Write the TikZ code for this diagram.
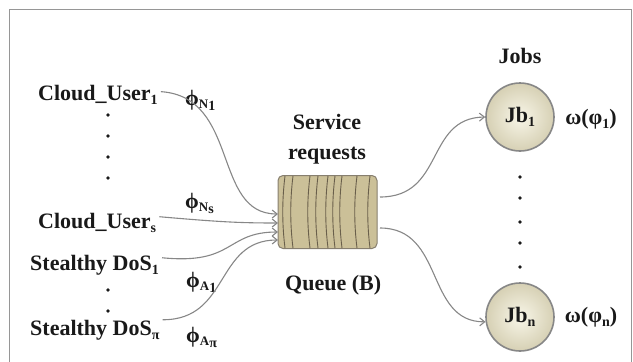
\documentclass[tikz,border=0pt]{standalone}
\usepackage{fontspec}
\setmainfont{Liberation Serif}
\usetikzlibrary{arrows.meta}
\definecolor{txt}{RGB}{25,25,25}
\definecolor{conn}{RGB}{135,135,135}
\definecolor{qfill}{RGB}{203,192,152}
\definecolor{qline}{RGB}{105,95,75}
\definecolor{frame}{RGB}{150,150,150}
\newcommand\lsub[1]{\raisebox{-0.45ex}{\fontsize{14}{14}\selectfont #1}}
\newcommand\phisub[1]{\raisebox{-0.3ex}{\fontsize{13}{13}\selectfont #1}}
\begin{document}
\begin{tikzpicture}[x=1pt,y=-1pt,
  font=\fontsize{22}{30}\selectfont\bfseries, text=txt,
  lbl/.style={inner sep=0pt, anchor=base west},
  conn/.style={draw=conn, line width=1.1pt, -{Straight Barb[length=5pt,width=8pt]}},
  jobnode/.style={circle, draw=frame!90!black, line width=1.6pt, minimum size=68pt, inner sep=0pt,
    inner color={rgb,255:red,248;green,246;blue,232}, outer color={rgb,255:red,214;green,208;blue,180}},
  qbox/.style={draw=qline!80, line width=1pt, fill=qfill, minimum width=99pt, minimum height=73pt, rounded corners=5pt, inner sep=0pt},
  dot/.style={circle, fill=txt, inner sep=0pt, minimum size=3.6pt}]
\useasboundingbox (0,0) rectangle (633,362);
% frame
\draw[frame, line width=1pt] (9.5,362) -- (9.5,9.5) -- (631.5,9.5) -- (631.5,362);

% sources
\node[lbl] (cu1) at (38,100) {Cloud\_User\lsub{1}};
\node[lbl] (cus) at (38,228) {Cloud\_User\lsub{s}};
\node[lbl] (sd1) at (30,270) {Stealthy DoS\lsub{1}};
\node[lbl] (sdp) at (30,335) {Stealthy DoS\lsub{π}};

% rate labels
\node[lbl] (pn1) at (185,105) {ϕ\phisub{N\lsub{1}}};
\node[lbl] (pns) at (185,208) {ϕ\phisub{N\lsub{s}}};
\node[lbl] (pa1) at (186,287) {ϕ\phisub{A\lsub{1}}};
\node[lbl] (pap) at (186,342) {ϕ\phisub{A\lsub{π}}};

% dots left
\foreach \yy [count=\i] in {115,136,157,178} \node[dot] (ld\i) at (108,\yy) {};
\foreach \yy [count=\i] in {290,311} \node[dot] (md\i) at (108,\yy) {};

% queue
\node[qbox] (q) at (327.5,212) {};
\foreach \xx in {285,293,310,318,328,335,342,357,370}
  \draw[qline, line width=0.9pt] (\xx,176) .. controls (\xx-3,200) and (\xx-3,224) .. (\xx,248);
\node[align=center, inner sep=0pt] (sr) at (327,139) {Service\\requests};
\node[lbl] (qb) at (285,290) {Queue (B)};

\coordinate (q1) at (278,214);
\coordinate (q2) at (278,223);
\coordinate (q3) at (278,232);
\coordinate (q4) at (278,240);
\coordinate (qo1) at (380,197);
\coordinate (qo2) at (380,228);

% jobs
\node[inner sep=0pt] (jobs) at (520,56) {Jobs};
\node[jobnode] (jb1) at (520,117) {Jb\lsub{1}};
\node[jobnode] (jbn) at (520,317) {Jb\lsub{n}};
\node[inner sep=0pt] (w1) at (591,119) {ω(φ\lsub{1})};
\node[inner sep=0pt] (wn) at (591,317) {ω(φ\lsub{n})};
\foreach \yy [count=\i] in {177,198,222,243,267} \node[dot] (rd\i) at (520,\yy) {};

% connectors
\draw[conn] (cu1.east) ++(3,-3) .. controls (240,97) and (212,214) .. (q1);
\draw[conn] (cus.east) ++(3,-6) .. controls (220,222) and (240,223) .. (q2);
\draw[conn] (sd1.east) ++(3,-7) .. controls (235,265) and (225,232) .. (q3);
\draw[conn] (sdp.east) ++(3,-10) .. controls (230,320) and (215,240) .. (q4);
\draw[conn] (qo1) .. controls (445,197) and (425,118) .. (jb1.west);
\draw[conn] (qo2) .. controls (445,228) and (425,322) .. (jbn.188);
\end{tikzpicture}
\end{document}
